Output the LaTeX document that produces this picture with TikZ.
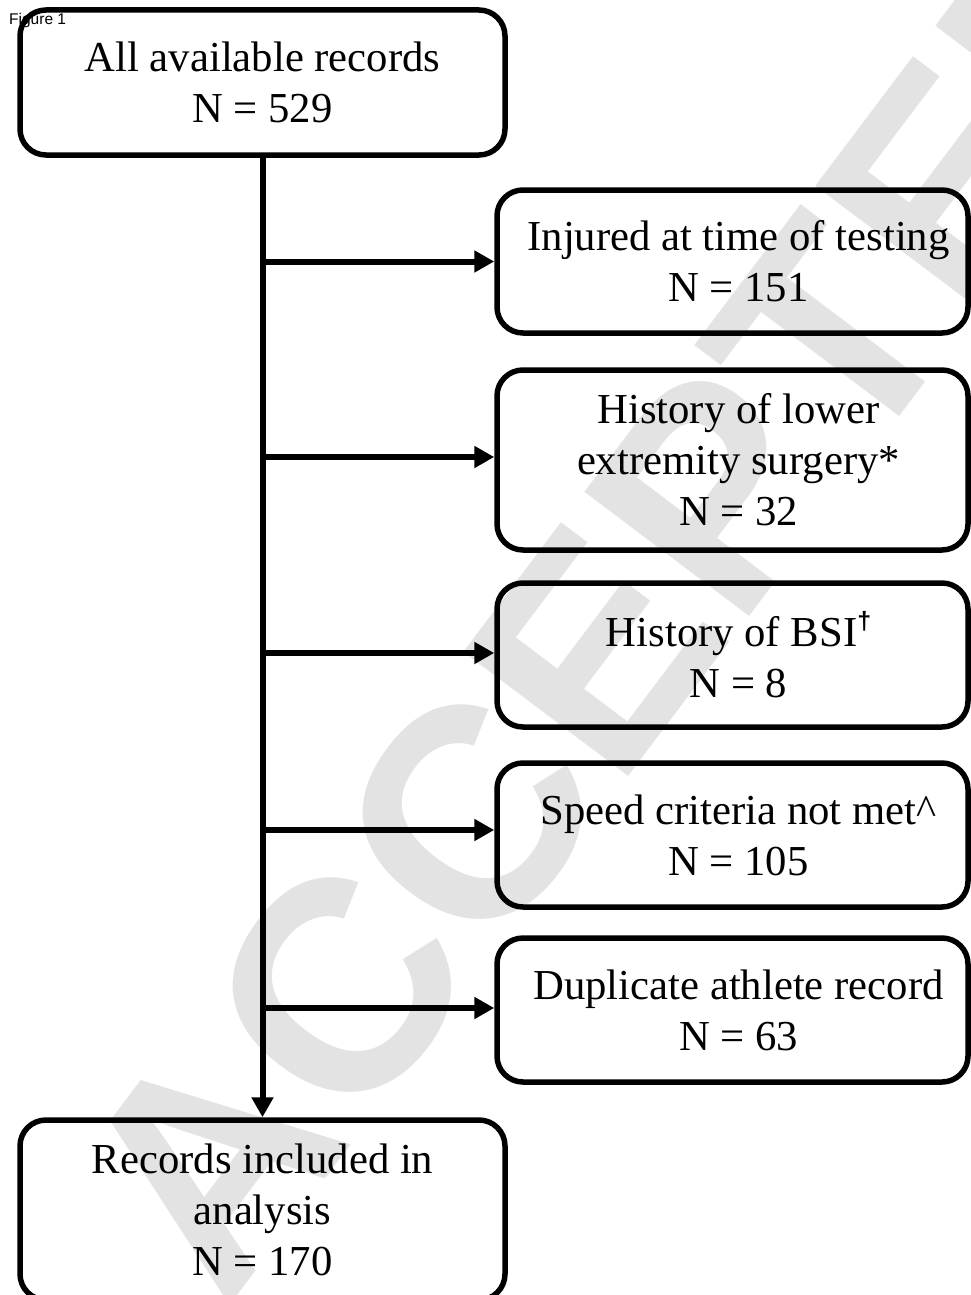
\documentclass[tikz,border=0pt]{standalone}
\usepackage{fontspec}
\setmainfont{Liberation Serif}
\newfontfamily\wmfont{Liberation Sans}
\usetikzlibrary{arrows.meta}
\begin{document}
\begin{tikzpicture}[x=1pt,y=-1pt,
  box/.style={draw=black, line width=5.5pt, rounded corners=26pt, inner sep=0pt},
  lbl/.style={align=center, font=\fontsize{42.7}{51}\selectfont, inner sep=0pt},
  conn/.style={line width=6pt, -{Triangle[length=20pt,width=21pt]}}]
\useasboundingbox (0,0) rectangle (971,1295);
\clip (0,0) rectangle (971,1295);
% watermark
\node[text=black!11, rotate=53, font=\wmfont\bfseries\fontsize{300}{300}\selectfont, inner sep=0pt] (wm) at (640,590) {ACCEPTED};
% figure label
\node[anchor=base west, font=\wmfont\fontsize{15.5}{16}\selectfont, inner sep=0pt] (fig) at (9,25) {Figure 1};
% boxes
\node[box, lbl, minimum width=485pt, minimum height=145pt] (top) at (262.5,82.5) {All available records\\N = 529};
\node[box, minimum width=471pt, minimum height=143pt] (b1) at (732.5,261.5) {};
\node[box, minimum width=471pt, minimum height=180pt] (b2) at (732.5,460) {};
\node[box, minimum width=471pt, minimum height=144pt] (b3) at (732.5,655) {};
\node[box, minimum width=471pt, minimum height=144pt] (b4) at (732.5,835) {};
\node[box, minimum width=471pt, minimum height=144pt] (b5) at (732.5,1010) {};
\node[box, lbl, minimum width=485pt, minimum height=180pt] (bot) at (262.5,1210) {Records included in\\analysis\\N = 170};
% labels of the right boxes
\node[lbl] (t1) at ([xshift=6pt]b1.center) {Injured at time of testing\\N = 151};
\node[lbl] (t2) at ([xshift=6pt]b2.center) {History of lower\\extremity surgery*\\N = 32};
\node[lbl] (t3) at ([xshift=6pt]b3.center) {History of BSI\raisebox{17pt}{\wmfont\bfseries\fontsize{25}{25}\selectfont †}\\N = 8};
\node[lbl] (t4) at ([xshift=6pt]b4.center) {Speed criteria not met\textasciicircum\\N = 105};
\node[lbl] (t5) at ([xshift=6pt]b5.center) {Duplicate athlete record\\N = 63};
% connectors
\coordinate (a1) at (b1.west);
\coordinate (a2) at ([yshift=3pt]b2.west);
\coordinate (a3) at ([yshift=2pt]b3.west);
\coordinate (a4) at ([yshift=5pt]b4.west);
\coordinate (a5) at ([yshift=2pt]b5.west);
\draw[conn] (top.south) -- (bot.north);
\foreach \a in {a1,a2,a3,a4,a5}
  \draw[conn] (top.south |- \a) -- (\a);
\end{tikzpicture}
\end{document}
